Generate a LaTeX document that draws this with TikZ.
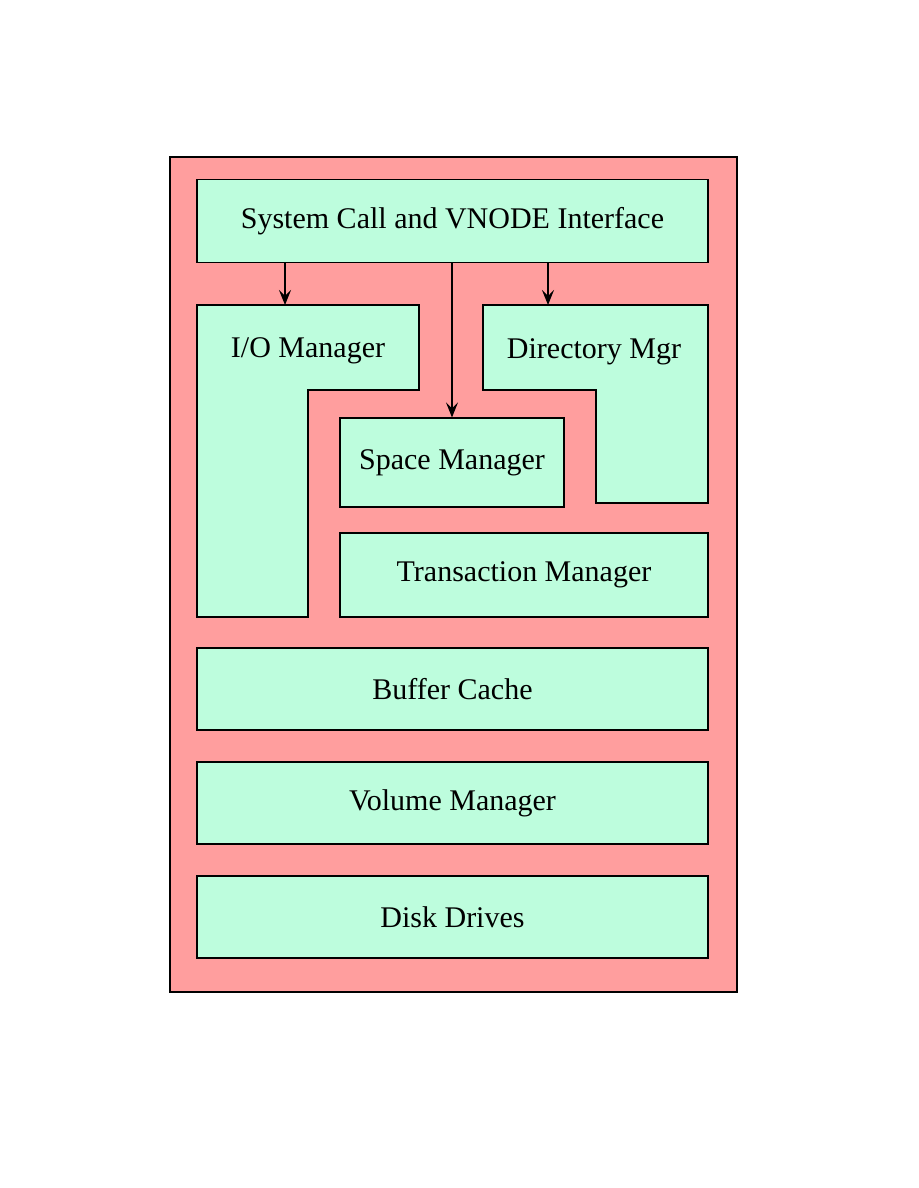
\documentclass[tikz,border=0pt]{standalone}
\usepackage{fontspec}
\usepackage{xcolor}
\usepackage{tikz}
\usetikzlibrary{arrows.meta,positioning,calc}
\setmainfont{Liberation Serif}
\definecolor{framepink}{HTML}{FF9E9E}
\definecolor{layermint}{HTML}{BDFDDD}

\begin{document}
\begin{tikzpicture}[
  x=1pt, y=-1pt,
  layer_box/.style={draw=black, line width=1.2pt, fill=layermint, align=center, font=\fontsize{30}{36}\selectfont, inner sep=0pt},
  wide_box/.style ={layer_box, minimum width=511pt, minimum height=83pt},
  shape_lbl/.style={font=\fontsize{30}{36}\selectfont, inner sep=0pt},
  arr/.style      ={-{Stealth[length=15pt, width=12pt, inset=6pt]}, line width=1.2pt, black},
]
  \useasboundingbox (0,0) rectangle (918,1188);
  \draw[line width=1.2pt, fill=framepink] (170,157) rectangle (737,992);

  \node[wide_box]                                        (sys)   at (452.5,221) {System Call and VNODE Interface};
  \node[layer_box, minimum width=224pt, minimum height=89pt] (space) at (452,462.5)  {Space Manager};
  \node[layer_box, minimum width=368pt, minimum height=84pt] (trans) at (524,575)    {Transaction Manager};
  \node[wide_box, minimum height=82pt]                   (buf)   at (452.5,689)   {Buffer Cache};
  \node[wide_box, minimum height=82pt]                   (vol)   at (452.5,803)   {Volume Manager};
  \node[wide_box, minimum height=82pt]                   (disk)  at (452.5,917)   {Disk Drives};

  % L-shaped layers
  \draw[line width=1.2pt, fill=layermint] (197,305) -- (419,305) -- (419,390) -- (308,390) -- (308,617) -- (197,617) -- cycle;
  \draw[line width=1.2pt, fill=layermint] (483,305) -- (708,305) -- (708,503) -- (596,503) -- (596,390) -- (483,390) -- cycle;
  \node[shape_lbl] (io)  at (308,351) {I/O Manager};
  \node[shape_lbl] (dir) at (594,352) {Directory Mgr};
  \coordinate (iotop)  at (285,305);
  \coordinate (dirtop) at (548,305);

  \draw[arr] (sys.south -| iotop) -- (iotop);
  \draw[arr] (sys.south -| space.north) -- (space.north);
  \draw[arr] (sys.south -| dirtop) -- (dirtop);
\end{tikzpicture}
\end{document}
